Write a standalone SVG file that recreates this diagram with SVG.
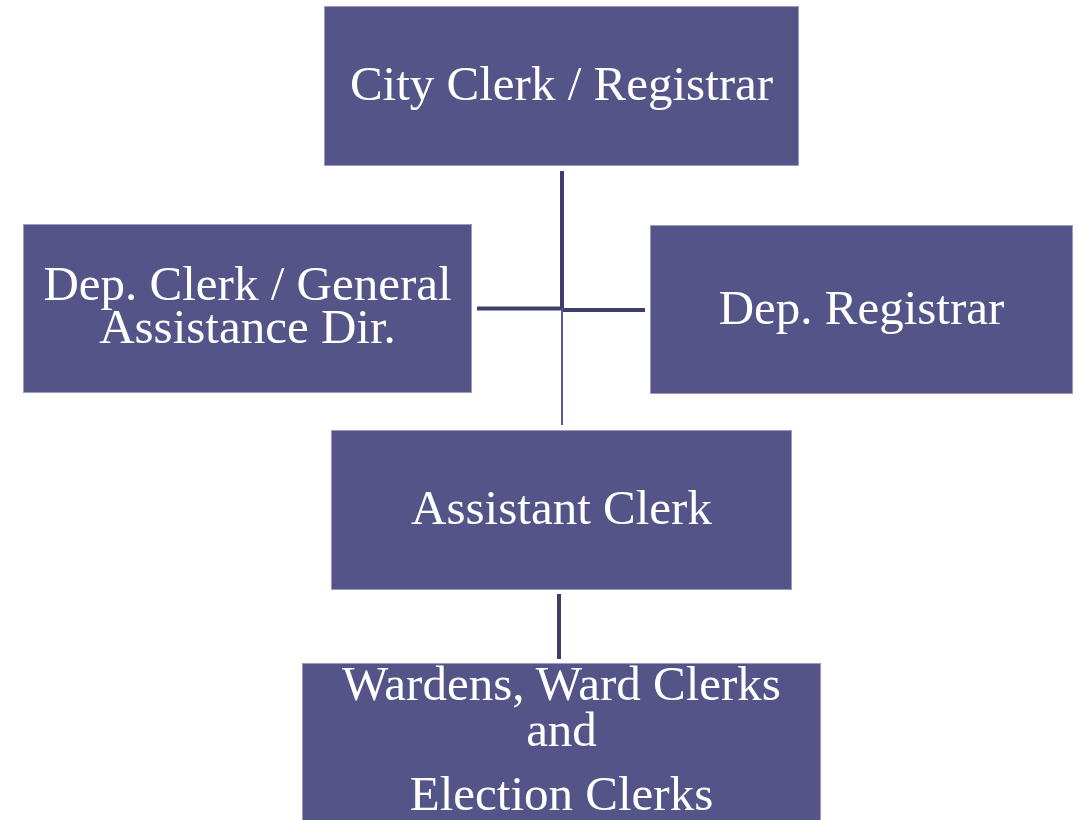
<svg xmlns="http://www.w3.org/2000/svg" width="1079" height="820" viewBox="0 0 1079 820">
<style>
.box{fill:#545489;stroke:#9a9ac4;stroke-width:1}
.t{font-family:"Liberation Serif","Times New Roman",serif;font-size:49px;fill:#ffffff;text-anchor:middle}
.c{stroke:#3e3e6c;stroke-width:4;fill:none}
.c2{stroke:#5a5a92;stroke-width:2;fill:none}
</style>
<rect width="1079" height="820" fill="#ffffff"/>
<g id="connectors">
<line class="c" x1="562" y1="171" x2="562" y2="310"/>
<line class="c" x1="477" y1="308.5" x2="562" y2="308.5"/>
<line class="c" x1="562" y1="310" x2="645" y2="310"/>
<line class="c2" x1="562" y1="308" x2="562" y2="425"/>
<line class="c" x1="559" y1="594" x2="559" y2="659"/>
</g>
<g id="city-clerk">
<rect class="box" x="324.5" y="6.5" width="474" height="159"/>
<text class="t" x="561.5" y="100">City Clerk / Registrar</text>
</g>
<g id="dep-clerk">
<rect class="box" x="23.5" y="224.5" width="448" height="168"/>
<text class="t" x="247.5" y="300">Dep. Clerk / General</text>
<text class="t" x="247.5" y="343">Assistance Dir.</text>
</g>
<g id="dep-registrar">
<rect class="box" x="650.5" y="225.5" width="422" height="168"/>
<text class="t" x="861.5" y="324">Dep. Registrar</text>
</g>
<g id="assistant-clerk">
<rect class="box" x="331.5" y="430.5" width="460" height="159"/>
<text class="t" x="561.5" y="524">Assistant Clerk</text>
</g>
<g id="wardens">
<rect class="box" x="302.5" y="663.5" width="518" height="160"/>
<text class="t" x="561.5" y="700">Wardens, Ward Clerks</text>
<text class="t" x="561.5" y="746">and</text>
<text class="t" x="561.5" y="810">Election Clerks</text>
</g>
</svg>
